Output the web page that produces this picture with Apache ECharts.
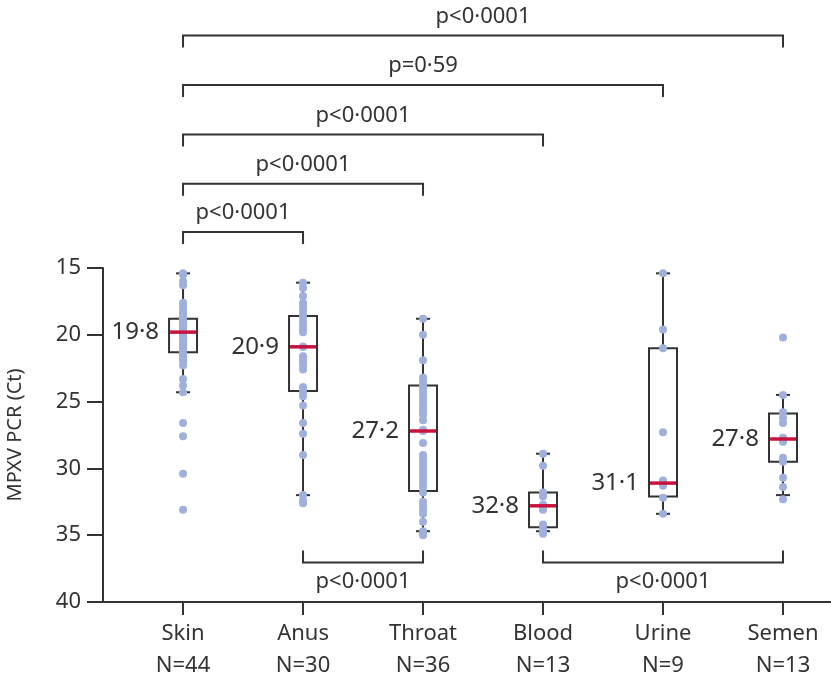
<!DOCTYPE html>
<html>
<head>
<meta charset="utf-8">
<script src="https://cdn.jsdelivr.net/npm/echarts@6/dist/echarts.min.js"></script>
<style>
  html, body { margin: 0; background: #fff; }
  #chart { width: 831px; height: 673px; }
</style>
</head>
<body>
<div id="chart"></div>
<script>
// sample sites and counts
const sites = ['Skin', 'Anus', 'Throat', 'Blood', 'Urine', 'Semen'];
const counts = [44, 30, 36, 13, 9, 13];
const yTicks = [15, 20, 25, 30, 35, 40];

// box statistics (Ct)
const whiskerTop = [15.4, 16.1, 18.8, 28.9, 15.4, 24.5];
const q1 = [18.8, 18.6, 23.8, 31.8, 21.0, 25.9];
const median = [19.8, 20.9, 27.2, 32.8, 31.1, 27.8];
const q3 = [21.3, 24.2, 31.7, 34.4, 32.1, 29.5];
const whiskerBottom = [24.3, 32.0, 34.7, 34.7, 33.4, 32.0];

// individual samples
const skin = [15.4, 15.5, 16.0, 16.3, 17.6, 17.9, 18.2, 18.4, 18.6, 18.8, 18.9, 19.0, 19.1, 19.2, 19.3,
  19.4, 19.5, 19.6, 19.7, 19.8, 19.8, 19.9, 20.0, 20.1, 20.3, 20.5, 20.6, 20.8, 20.9, 21.0, 21.2,
  21.3, 21.5, 21.6, 21.8, 22.0, 22.3, 23.3, 23.8, 24.3, 26.6, 27.6, 30.4, 33.1];
const anus = [16.1, 16.5, 17.1, 17.6, 17.9, 18.2, 18.5, 18.7, 19.0, 19.3, 19.6, 19.8, 20.9, 20.9, 21.6,
  21.9, 22.0, 22.3, 22.6, 23.9, 24.1, 24.3, 24.6, 25.3, 26.6, 27.4, 29.0, 32.0, 32.4, 32.6];
const throat = [18.8, 20.0, 21.9, 23.2, 23.5, 23.8, 24.0, 24.3, 24.6, 24.9, 25.2, 25.5, 25.8, 26.0, 26.4,
  27.1, 27.2, 28.1, 29.0, 29.3, 29.6, 29.9, 30.2, 30.5, 30.8, 31.1, 31.4, 31.8, 32.5, 32.8, 33.1,
  33.4, 34.0, 34.7, 34.9, 35.0];
const blood = [28.9, 29.8, 31.8, 31.9, 32.1, 32.7, 32.8, 33.0, 33.1, 34.2, 34.5, 34.7, 34.9];
const urine = [15.4, 19.6, 21.0, 27.3, 30.9, 31.1, 31.3, 32.2, 33.4];
const semen = [20.2, 24.5, 25.8, 26.2, 26.6, 27.7, 27.8, 28.0, 29.2, 29.5, 30.7, 31.4, 32.3];
const samples = [skin, anus, throat, blood, urine, semen];

// significance brackets: from site, to site (1-based), level in Ct units
const bracketFrom = [1, 1, 1, 1, 1, 2, 4];
const bracketTo = [6, 5, 4, 3, 2, 3, 6];
const bracketLevel = [-2.4, 1.3, 5.0, 8.7, 12.3, 37.05, 37.05];
const bracketText = ['p<0·0001', 'p=0·59', 'p<0·0001', 'p<0·0001', 'p<0·0001', 'p<0·0001', 'p<0·0001'];

const fmt = v => v.toFixed(1).replace('.', '·');
const ink = '#333';
const font = 'Noto Sans';

const boxData = sites.map((s, i) => [i + 1, whiskerTop[i], q1[i], median[i], q3[i], whiskerBottom[i]]);
const pointData = [];
samples.forEach((arr, i) => arr.forEach(v => pointData.push([i + 1, v])));
const medianData = sites.map((s, i) => [i + 1, median[i]]);
const bracketData = bracketFrom.map((f, i) => [f, bracketTo[i], bracketLevel[i]]);

const chart = echarts.init(document.getElementById('chart'));
chart.setOption({
  animation: false,
  textStyle: { fontFamily: font },
  grid: { left: 103, right: 0, top: 268, bottom: 71, outerBoundsMode: 'none' },
  xAxis: {
    type: 'value',
    min: 0.333,
    max: 6.4,
    splitLine: { show: false },
    axisLine: { onZero: false, lineStyle: { color: ink, width: 2 } },
    axisTick: { customValues: [1, 2, 3, 4, 5, 6], length: 13, lineStyle: { color: ink, width: 2 } },
    axisLabel: {
      customValues: [1, 2, 3, 4, 5, 6],
      margin: 16,
      color: ink,
      fontSize: 22,
      lineHeight: 32,
      fontFamily: font,
      formatter: v => sites[Math.round(v) - 1] + '\nN=' + counts[Math.round(v) - 1]
    }
  },
  yAxis: {
    type: 'value',
    inverse: true,
    min: 15,
    max: 40,
    interval: 5,
    name: 'MPXV PCR (Ct)',
    nameLocation: 'middle',
    nameRotate: 90,
    nameGap: 78,
    nameTextStyle: { color: ink, fontSize: 20, fontFamily: font },
    splitLine: { show: false },
    axisLine: { show: true, onZero: false, lineStyle: { color: ink, width: 2 } },
    axisTick: { show: true, length: 16, lineStyle: { color: ink, width: 2 } },
    axisLabel: { margin: 22, color: ink, fontSize: 22, fontFamily: font, formatter: v => yTicks.includes(v) ? String(v) : '' }
  },
  series: [
    {
      type: 'custom',
      name: 'box',
      clip: false,
      z: 2,
      data: boxData,
      encode: { x: 0, y: [1, 2, 3, 4, 5] },
      renderItem: (params, api) => {
        const x = api.value(0);
        const t = api.coord([x, api.value(1)]);
        const a = api.coord([x, api.value(2)]);
        const b = api.coord([x, api.value(4)]);
        const e = api.coord([x, api.value(5)]);
        const hw = 14, cw = 7;
        const st = { stroke: ink, lineWidth: 2, fill: 'none' };
        return {
          type: 'group',
          children: [
            { type: 'line', shape: { x1: t[0], y1: t[1], x2: a[0], y2: a[1] }, style: st },
            { type: 'line', shape: { x1: b[0], y1: b[1], x2: e[0], y2: e[1] }, style: st },
            { type: 'line', shape: { x1: t[0] - cw, y1: t[1], x2: t[0] + cw, y2: t[1] }, style: st },
            { type: 'line', shape: { x1: e[0] - cw, y1: e[1], x2: e[0] + cw, y2: e[1] }, style: st },
            { type: 'rect', shape: { x: a[0] - hw, y: a[1], width: hw * 2, height: b[1] - a[1] }, style: st }
          ]
        };
      }
    },
    {
      type: 'scatter',
      name: 'samples',
      z: 3,
      symbol: 'circle',
      symbolSize: 8,
      itemStyle: { color: '#9fb0dc', opacity: 1 },
      data: pointData
    },
    {
      type: 'custom',
      name: 'median',
      clip: false,
      z: 4,
      data: medianData,
      encode: { x: 0, y: 1 },
      renderItem: (params, api) => {
        const p = api.coord([api.value(0), api.value(1)]);
        return {
          type: 'group',
          children: [
            { type: 'line', shape: { x1: p[0] - 13, y1: p[1], x2: p[0] + 13, y2: p[1] }, style: { stroke: '#c8133f', lineWidth: 3.5 } },
            {
              type: 'text',
              x: p[0] - 24,
              y: p[1],
              style: { text: fmt(api.value(1)), align: 'right', verticalAlign: 'middle', fill: ink, fontSize: 24, fontFamily: font }
            }
          ]
        };
      }
    },
    {
      type: 'custom',
      name: 'brackets',
      clip: false,
      z: 2,
      data: bracketData,
      encode: { x: [0, 1], y: 2 },
      renderItem: (params, api) => {
        const lvl = api.value(2);
        const p1 = api.coord([api.value(0), lvl]);
        const p2 = api.coord([api.value(1), lvl]);
        const below = lvl > 30;
        const tick = below ? -12 : 12;
        const ty = below ? p1[1] + 19 : p1[1] - 19;
        return {
          type: 'group',
          children: [
            {
              type: 'polyline',
              shape: { points: [[p1[0], p1[1] + tick], [p1[0], p1[1]], [p2[0], p2[1]], [p2[0], p2[1] + tick]] },
              style: { stroke: ink, lineWidth: 2, fill: 'none' }
            },
            {
              type: 'text',
              x: (p1[0] + p2[0]) / 2,
              y: ty,
              style: { text: bracketText[params.dataIndex], align: 'center', verticalAlign: 'middle', fill: ink, fontSize: 22, fontFamily: font }
            }
          ]
        };
      }
    }
  ]
});
</script>
</body>
</html>
